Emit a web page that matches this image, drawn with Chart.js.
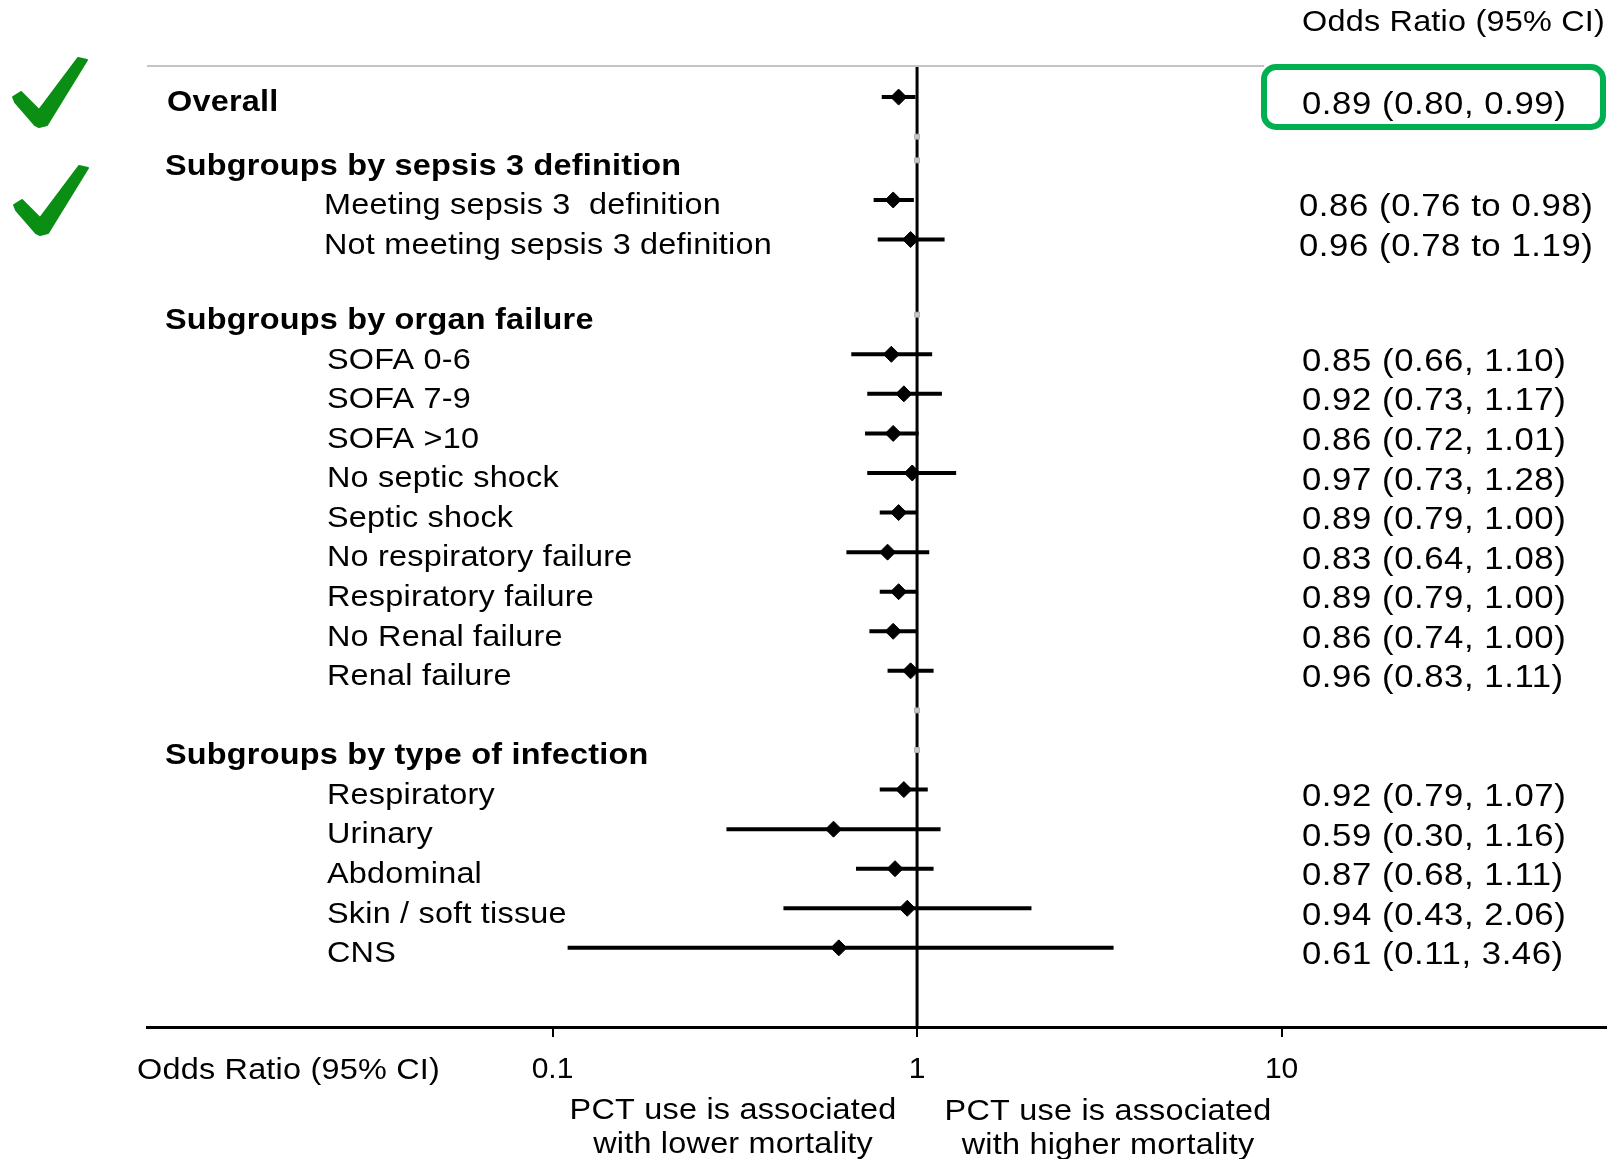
<!DOCTYPE html>
<html>
<head>
<meta charset="utf-8">
<title>PCT use and mortality - odds ratios</title>
<script src="https://cdn.jsdelivr.net/npm/chart.js@4.4.1/dist/chart.umd.min.js"></script>
<style>
  html, body { margin: 0; padding: 0; background: #fff; }
  canvas { display: block; }
</style>
</head>
<body>
<canvas id="forestChart" width="1616" height="1159"></canvas>
<script>
// rows of the forest plot (top to bottom)
const rowLabels = [
    'Overall',
    'Meeting sepsis 3  definition', 'Not meeting sepsis 3 definition',
    'SOFA 0-6', 'SOFA 7-9', 'SOFA >10', 'No septic shock', 'Septic shock',
    'No respiratory failure', 'Respiratory failure', 'No Renal failure', 'Renal failure',
    'Respiratory', 'Urinary', 'Abdominal', 'Skin / soft tissue', 'CNS'
];
const rowGroup = [
    'overall',
    'sepsis', 'sepsis',
    'organ', 'organ', 'organ', 'organ', 'organ', 'organ', 'organ', 'organ', 'organ',
    'infection', 'infection', 'infection', 'infection', 'infection'
];
const oddsRatio = [0.89, 0.86, 0.96, 0.85, 0.92, 0.86, 0.97, 0.89, 0.83, 0.89, 0.86, 0.96, 0.92, 0.59, 0.87, 0.94, 0.61];
const ciLow     = [0.80, 0.76, 0.78, 0.66, 0.73, 0.72, 0.73, 0.79, 0.64, 0.79, 0.74, 0.83, 0.79, 0.30, 0.68, 0.43, 0.11];
const ciHigh    = [0.99, 0.98, 1.19, 1.10, 1.17, 1.01, 1.28, 1.00, 1.08, 1.00, 1.00, 1.11, 1.07, 1.16, 1.11, 2.06, 3.46];

// row slots on the y axis (half-row units)
const rowSlot = [0, 5.2, 7.2, 13, 15, 17, 19, 21, 23, 25, 27, 29, 35, 37, 39, 41, 43];
const headings = ['Subgroups by sepsis 3 definition', 'Subgroups by organ failure', 'Subgroups by type of infection'];
const headingSlot = [3.2, 11, 33];
const emptySlot = [2, 3.2, 11, 31, 33];

const xTicks = [0.1, 1, 10];
const axisTitle = 'Odds Ratio (95% CI)';
const lowerNote = ['PCT use is associated', 'with lower mortality'];
const higherNote = ['PCT use is associated', 'with higher mortality'];

const FONT = "'Liberation Sans', Arial, sans-serif";

function fmt(v) { return v.toFixed(2); }

function ciText(i) {
    const sep = rowGroup[i] === 'sepsis' ? ' to ' : ', ';
    return fmt(oddsRatio[i]) + ' (' + fmt(ciLow[i]) + sep + fmt(ciHigh[i]) + ')';
}

// the text is a little wider than plain Arial, so it gets a horizontal scale
function drawText(ctx, str, x, y, font, opts) {
    opts = opts || {};
    ctx.save();
    ctx.font = font;
    ctx.fillStyle = '#000';
    ctx.letterSpacing = (opts.spacing !== undefined ? opts.spacing : 0.2) + 'px';
    ctx.textAlign = opts.align || 'left';
    ctx.textBaseline = 'middle';
    ctx.translate(x, y);
    ctx.scale(opts.stretch || 1.08, 1);
    ctx.fillText(str, 0, 0);
    ctx.restore();
}

// tick mark drawn as a tapered brush stroke
function drawCheck(ctx, dx, dy) {
    const pts = [[13, 97], [21, 92], [39, 110], [78, 58], [87, 60], [47, 125], [39, 127], [35, 125], [15, 102]];
    ctx.save();
    ctx.translate(dx, dy);
    ctx.fillStyle = '#0a8f14';
    ctx.strokeStyle = '#0a8f14';
    ctx.lineWidth = 2;
    ctx.lineJoin = 'round';
    ctx.beginPath();
    pts.forEach((p, i) => i ? ctx.lineTo(p[0], p[1]) : ctx.moveTo(p[0], p[1]));
    ctx.closePath();
    ctx.fill();
    ctx.stroke();
    ctx.restore();
}

function roundRect(ctx, x, y, w, h, r) {
    ctx.beginPath();
    ctx.moveTo(x + r, y);
    ctx.arcTo(x + w, y, x + w, y + h, r);
    ctx.arcTo(x + w, y + h, x, y + h, r);
    ctx.arcTo(x, y + h, x, y, r);
    ctx.arcTo(x, y, x + w, y, r);
    ctx.closePath();
}

const annotations = {
    id: 'forestText',
    afterDraw(chart) {
        const ctx = chart.ctx;
        const xs = chart.scales.x;
        const ys = chart.scales.y;
        const area = chart.chartArea;
        const plain = '30px ' + FONT;
        const bold = 'bold 30px ' + FONT;
        const valueFont = '31px ' + FONT;
        const valueOpts = { stretch: 1.12, spacing: 0.5 };
        const boxLeft = 1264;

        // rule under the column header
        ctx.save();
        ctx.strokeStyle = '#c4c4c4';
        ctx.lineWidth = 2;
        ctx.beginPath();
        ctx.moveTo(area.left, area.top);
        ctx.lineTo(boxLeft, area.top);
        ctx.stroke();
        ctx.restore();

        drawText(ctx, axisTitle, 1302, 23, plain);

        rowLabels.forEach((label, i) => {
            const y = ys.getPixelForValue(rowSlot[i]);
            if (rowGroup[i] === 'overall') {
                drawText(ctx, label, 167, y + 6, bold);
            } else {
                drawText(ctx, label, rowGroup[i] === 'sepsis' ? 324 : 327, y + 6, plain);
            }
            drawText(ctx, ciText(i), rowGroup[i] === 'sepsis' ? 1299 : 1302, y + 8, valueFont, valueOpts);
        });

        headings.forEach((h, i) => {
            drawText(ctx, h, 165, ys.getPixelForValue(headingSlot[i]) + 6, bold);
        });

        // bottom texts
        const x1 = xs.getPixelForValue(1);
        drawText(ctx, axisTitle, 137, 1071, plain);
        lowerNote.forEach((t, i) => drawText(ctx, t, x1 - 184, 1111 + i * 34, plain, { align: 'center' }));
        higherNote.forEach((t, i) => drawText(ctx, t, x1 + 191, 1112 + i * 34, plain, { align: 'center' }));

        // highlight on the overall estimate
        ctx.save();
        ctx.strokeStyle = '#00b050';
        ctx.lineWidth = 6;
        roundRect(ctx, boxLeft, 67, 1603 - boxLeft, 60, 12);
        ctx.stroke();
        ctx.restore();

        drawCheck(ctx, 0, 0);
        drawCheck(ctx, 1, 108);
    }
};

const ciDatasets = rowLabels.map((label, i) => ({
    label: label,
    data: [{ x: ciLow[i], y: rowSlot[i] }, { x: ciHigh[i], y: rowSlot[i] }],
    showLine: true,
    borderColor: '#000',
    borderWidth: 4,
    pointRadius: 0,
    order: 2
}));

const ctx = document.getElementById('forestChart').getContext('2d');
new Chart(ctx, {
    type: 'scatter',
    data: {
        datasets: [
            {
                label: 'Odds ratio',
                data: oddsRatio.map((v, i) => ({ x: v, y: rowSlot[i] })),
                pointStyle: 'rectRot',
                pointRadius: 8,
                backgroundColor: '#000',
                borderColor: '#000',
                borderWidth: 1,
                order: 0
            },
            {
                label: 'empty rows',
                data: emptySlot.map(s => ({ x: 1, y: s })),
                pointStyle: 'rect',
                pointRadius: 3.5,
                backgroundColor: '#c8c8c8',
                borderColor: '#b0b0b0',
                borderWidth: 1,
                order: 1
            },
            ...ciDatasets,
            {
                label: 'no effect',
                data: [{ x: 1, y: -1.57 }, { x: 1, y: 47 }],
                showLine: true,
                borderColor: '#000',
                borderWidth: 3,
                pointRadius: 0,
                order: 3
            }
        ]
    },
    options: {
        responsive: false,
        animation: false,
        layout: { padding: { left: 147, right: 10, top: 66, bottom: 0 } },
        plugins: {
            legend: { display: false },
            tooltip: { enabled: false }
        },
        scales: {
            x: {
                type: 'logarithmic',
                min: 0.00772,
                max: 77.6,
                afterBuildTicks: (scale) => { scale.ticks = xTicks.map(v => ({ value: v })); },
                afterFit: (scale) => { scale.height = 132; },
                ticks: {
                    callback: (v) => String(v),
                    font: { size: 30, family: FONT },
                    color: '#000',
                    padding: 15,
                    maxRotation: 0,
                    autoSkip: false
                },
                grid: {
                    drawOnChartArea: false,
                    drawTicks: true,
                    tickLength: 10,
                    color: '#000',
                    lineWidth: 2
                },
                border: { color: '#000', width: 3 }
            },
            y: {
                type: 'linear',
                reverse: true,
                min: -1.57,
                max: 47,
                display: false
            }
        }
    },
    plugins: [annotations]
});
</script>
</body>
</html>
